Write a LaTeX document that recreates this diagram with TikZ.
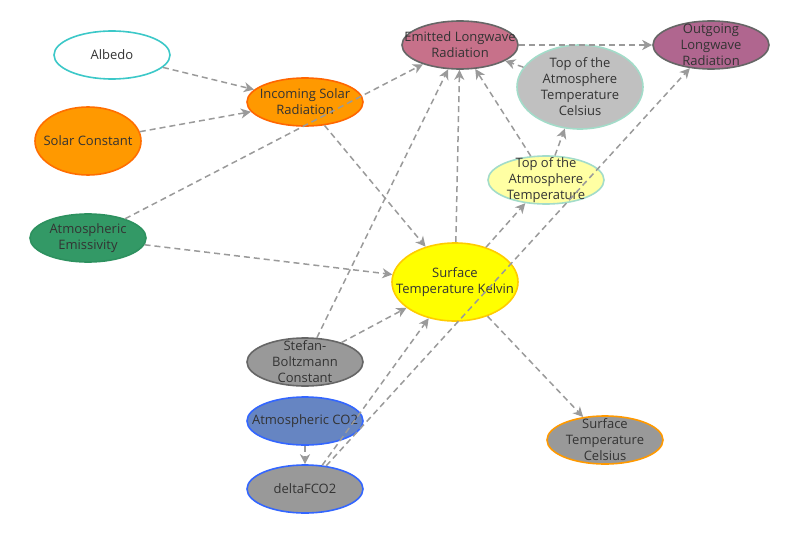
\documentclass[tikz,border=0pt]{standalone}
\usepackage{fontspec}
\setmainfont{Open Sans}
\usetikzlibrary{shapes.geometric,arrows.meta}
\definecolor{txt}{HTML}{333333}
\definecolor{edge}{HTML}{9A9A9A}
\begin{document}
\begin{tikzpicture}[x=1pt,y=-1pt,
  ell/.style={ellipse,inner sep=0pt,line width=1.6pt,minimum width=116pt,minimum height=48pt},
  lbl/.style={text=txt,font=\fontsize{13}{16}\selectfont,align=center},
  conn/.style={draw=edge,line width=1.5pt,dash pattern=on 6pt off 4pt,
    -{Stealth[length=10pt,width=10pt,inset=3pt]}}]
\useasboundingbox (0,0) rectangle (800,535);
\node[ell,draw={rgb,255:red,60;green,200;blue,200},fill=white] (alb) at (112,55) {};
\node[ell,draw={rgb,255:red,255;green,110;blue,0},fill={rgb,255:red,255;green,153;blue,0},minimum width=106pt,minimum height=68pt] (sc) at (88,141) {};
\node[ell,draw={rgb,255:red,45;green,145;blue,95},fill={rgb,255:red,51;green,153;blue,102}] (emis) at (88,238) {};
\node[ell,draw={rgb,255:red,255;green,102;blue,0},fill={rgb,255:red,255;green,153;blue,0}] (isr) at (305,102) {};
\node[ell,draw={rgb,255:red,102;green,102;blue,102},fill={rgb,255:red,199;green,113;blue,138}] (elr) at (460,45) {};
\node[ell,draw={rgb,255:red,102;green,102;blue,102},fill={rgb,255:red,176;green,102;blue,143}] (olr) at (711,45) {};
\node[ell,draw={rgb,255:red,163;green,220;blue,201},fill={rgb,255:red,192;green,192;blue,192},minimum width=126pt,minimum height=84pt] (toac) at (580,87) {};
\node[ell,draw={rgb,255:red,163;green,220;blue,201},fill={rgb,255:red,255;green,255;blue,163}] (toa) at (546,180) {};
\node[ell,draw={rgb,255:red,255;green,204;blue,0},fill={rgb,255:red,255;green,255;blue,0},minimum width=126pt,minimum height=78pt] (stk) at (455,282) {};
\node[ell,draw={rgb,255:red,102;green,102;blue,102},fill={rgb,255:red,153;green,153;blue,153}] (sb) at (305,362) {};
\node[ell,draw={rgb,255:red,51;green,102;blue,255},fill={rgb,255:red,102;green,133;blue,194}] (co2) at (305,421) {};
\node[ell,draw={rgb,255:red,51;green,102;blue,255},fill={rgb,255:red,153;green,153;blue,153}] (dco2) at (305,489) {};
\node[ell,draw={rgb,255:red,255;green,153;blue,0},fill={rgb,255:red,153;green,153;blue,153}] (stc) at (605,440) {};
% labels
\node[lbl] (talb) at (alb) {Albedo};
\node[lbl] (tsc) at (sc) {Solar Constant};
\node[lbl] (temis) at (emis) {Atmospheric\\Emissivity};
\node[lbl] (tisr) at (isr) {Incoming Solar\\Radiation};
\node[lbl] (telr) at (elr) {Emitted Longwave\\Radiation};
\node[lbl] (tolr) at (olr) {Outgoing\\Longwave\\Radiation};
\node[lbl] (ttoac) at (toac) {Top of the\\Atmosphere\\Temperature\\Celsius};
\node[lbl] (ttoa) at (toa) {Top of the\\Atmosphere\\Temperature};
\node[lbl] (tstk) at (stk) {Surface\\Temperature Kelvin};
\node[lbl] (tsb) at (sb) {Stefan-\\Boltzmann\\Constant};
\node[lbl] (tco2) at (co2) {Atmospheric CO2};
\node[lbl] (tdco2) at (dco2) {deltaFCO2};
\node[lbl] (tstc) at (stc) {Surface\\Temperature\\Celsius};
% connectors
\draw[conn] (alb) -- (isr);
\draw[conn] (sc) -- (isr);
\draw[conn] (emis) -- (elr);
\draw[conn] (emis) -- (stk);
\draw[conn] (isr) -- (stk);
\draw[conn] (sb) -- (elr);
\draw[conn] (sb) -- (stk);
\draw[conn] (stk) -- (elr);
\draw[conn] (stk) -- (toa);
\draw[conn] (stk) -- (stc);
\draw[conn] (toa) -- (elr);
\draw[conn] (toa) -- (toac);
\draw[conn] (toac) -- (elr);
\draw[conn] (elr) -- (olr);
\draw[conn] (co2) -- (dco2);
\draw[conn] (dco2) -- (stk);
\draw[conn] (dco2) -- (olr);
\end{tikzpicture}
\end{document}
